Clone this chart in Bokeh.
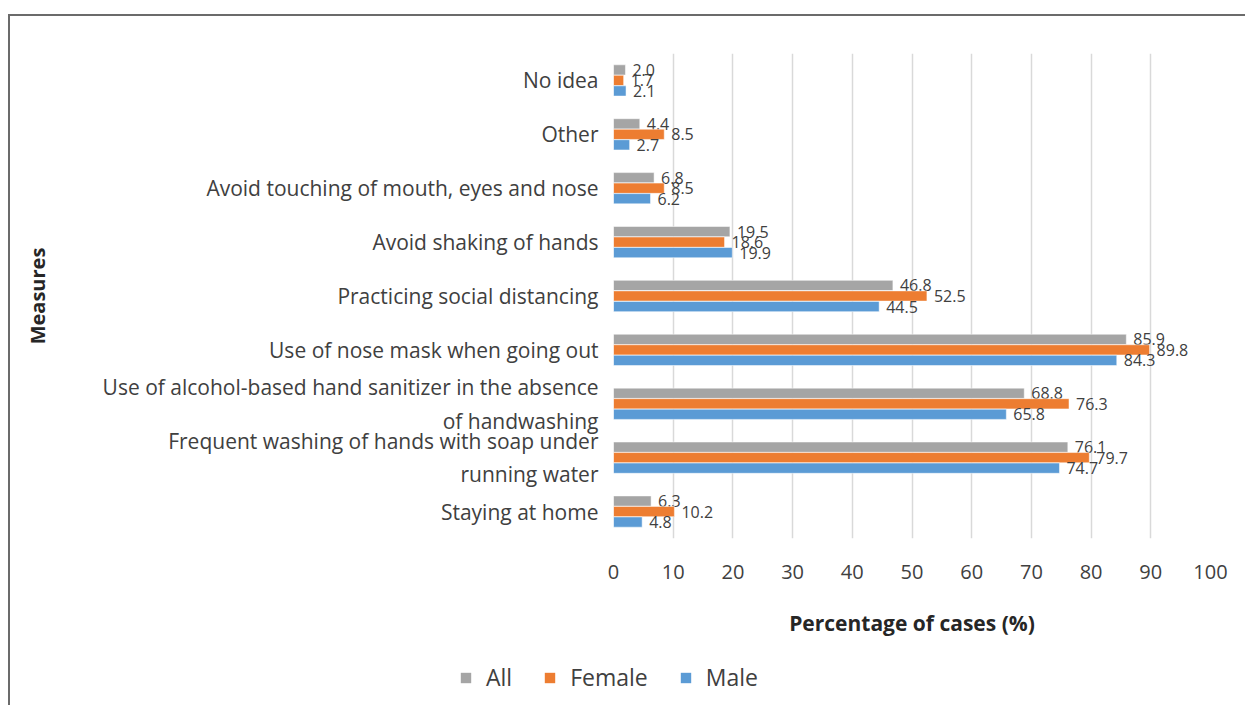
from bokeh.plotting import figure
from bokeh.layouts import column
from bokeh.models import FactorRange, FixedTicker, Legend, LegendItem, ColumnDataSource
from bokeh.transform import dodge
from bokeh.core.properties import value
from bokeh.embed import file_html
from bokeh.resources import INLINE

categories = [
    "Staying at home",
    "Frequent washing of hands with soap under\nrunning water",
    "Use of alcohol-based hand sanitizer in the absence\nof handwashing",
    "Use of nose mask when going out",
    "Practicing social distancing",
    "Avoid shaking of hands",
    "Avoid touching of mouth, eyes and nose",
    "Other",
    "No idea",
]
all_vals = [6.3, 76.1, 68.8, 85.9, 46.8, 19.5, 6.8, 4.4, 2.0]
female_vals = [10.2, 79.7, 76.3, 89.8, 52.5, 18.6, 8.5, 8.5, 1.7]
male_vals = [4.8, 74.7, 65.8, 84.3, 44.5, 19.9, 6.2, 2.7, 2.1]
series_names = ["All", "Female", "Male"]
colors = ["#A5A5A5", "#ED7D31", "#5B9BD5"]
x_ticks = [0, 10, 20, 30, 40, 50, 60, 70, 80, 90, 100]

FONT = "Open Sans"

src = ColumnDataSource(dict(
    cat=categories,
    All=all_vals,
    Female=female_vals,
    Male=male_vals,
    All_lbl=["%.1f" % v for v in all_vals],
    Female_lbl=["%.1f" % v for v in female_vals],
    Male_lbl=["%.1f" % v for v in male_vals],
))

p = figure(
    width=1235, height=639,
    y_range=FactorRange(factors=categories, range_padding=0),
    x_range=(0, 100),
    output_backend="svg", toolbar_location=None,
    min_border_left=603, min_border_right=35,
    min_border_top=37, min_border_bottom=117,
)
p.outline_line_color = None
p.frame_align = False

offsets = [0.195, 0.0, -0.195]
for name, col, off in zip(series_names, colors, offsets):
    p.hbar(y=dodge("cat", off, range=p.y_range), right=name, left=0,
           height=0.19, source=src, fill_color=col,
           line_color="white", line_width=0.5)
    p.text(x=name, y=dodge("cat", off, range=p.y_range), text=name + "_lbl",
           source=src, x_offset=7, text_baseline="middle", text_align="left",
           text_font=value(FONT), text_font_size="16px", text_color="#404040")

# axes
p.xaxis.ticker = FixedTicker(ticks=x_ticks)
p.xaxis.axis_line_color = None
p.xaxis.major_tick_line_color = None
p.xaxis.minor_tick_line_color = None
p.xaxis.major_label_text_font = FONT
p.xaxis.major_label_text_font_size = "20px"
p.xaxis.major_label_text_color = "#404040"
p.xaxis.major_label_standoff = 20
p.xaxis.axis_label = "Percentage of cases (%)"
p.xaxis.axis_label_text_font = FONT
p.xaxis.axis_label_text_font_style = "bold"
p.xaxis.axis_label_text_font_size = "21px"
p.xaxis.axis_label_text_color = "#262626"
p.xaxis.axis_label_standoff = 27

p.yaxis.axis_line_color = None
p.yaxis.major_tick_line_color = None
p.yaxis.minor_tick_line_color = None
p.yaxis.major_label_text_font = FONT
p.yaxis.major_label_text_font_size = "21px"
p.yaxis.major_label_text_color = "#404040"
p.yaxis.major_label_standoff = 9
p.yaxis.axis_label = "Measures"
p.yaxis.axis_label_text_font = FONT
p.yaxis.axis_label_text_font_style = "bold"
p.yaxis.axis_label_text_font_size = "20px"
p.yaxis.axis_label_text_color = "#262626"
p.yaxis.axis_label_standoff = 49

p.xgrid.grid_line_color = "#D9D9D9"
p.xgrid.grid_line_width = 1.5
p.ygrid.grid_line_color = None

# legend strip below the chart
lf = figure(width=1235, height=50, x_range=(0, 1), y_range=(0, 1),
            output_backend="svg", toolbar_location=None,
            x_axis_location=None, y_axis_location=None,
            min_border=0)
lf.outline_line_color = None
lf.grid.grid_line_color = None
lf.frame_align = False
leg_renderers = [lf.hbar(y=[0], left=[0], right=[0], height=0,
                         fill_color=c, line_color=None)
                 for c in colors]
legend = Legend(
    items=[LegendItem(label=n, renderers=[r]) for n, r in zip(series_names, leg_renderers)],
    orientation="horizontal", location=(449, 12),
    glyph_width=13, glyph_height=13, label_text_font=FONT,
    label_text_font_size="23px", label_text_color="#404040",
    spacing=31, padding=0, margin=0, border_line_color=None,
    background_fill_alpha=0, label_standoff=14,
)
lf.add_layout(legend, "center")

layout = column(p, lf, spacing=0)
layout.styles = {"margin-left": "8px", "margin-top": "14px",
                 "border-top": "2px solid #6b6b6b",
                 "border-left": "2px solid #6b6b6b"}

open("out.html", "w").write(file_html(layout, INLINE))
